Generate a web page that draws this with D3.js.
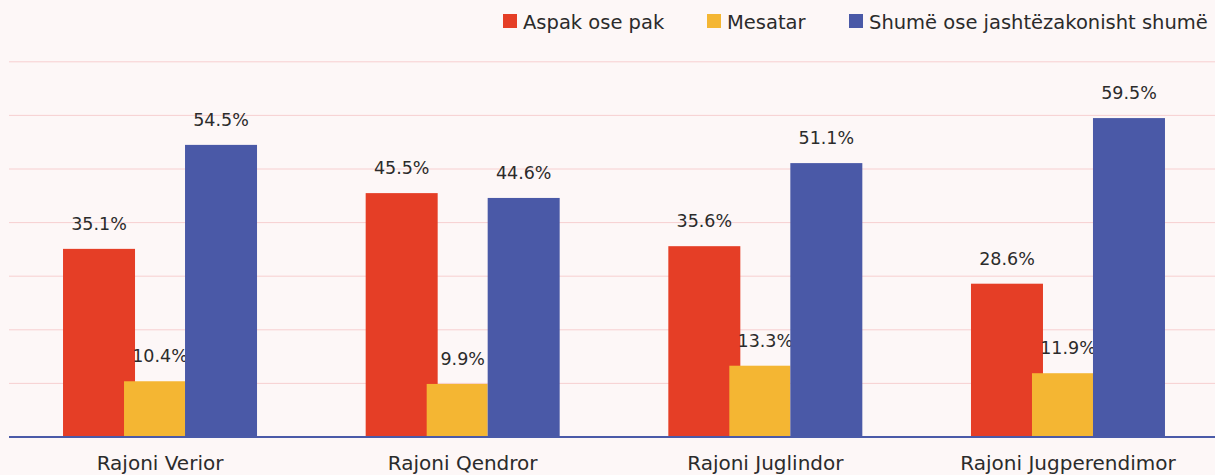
<!DOCTYPE html>
<html>
<head>
<meta charset="utf-8">
<script src="https://cdn.jsdelivr.net/npm/d3@7"></script>
<style>
  html, body { margin: 0; padding: 0; background: #fdf7f7; }
  svg { display: block; }
  text { font-family: "DejaVu Sans", sans-serif; fill: #2b2b2b; }
</style>
</head>
<body>
<svg id="chart" width="1215" height="475"></svg>
<script>
// ---- data ----
const categories = ["Rajoni Verior", "Rajoni Qendror", "Rajoni Juglindor", "Rajoni Jugperendimor"];
const seriesNames = ["Aspak ose pak", "Mesatar", "Shumë ose jashtëzakonisht shumë"];
const aspakOsePak = [35.1, 45.5, 35.6, 28.6];
const mesatar = [10.4, 9.9, 13.3, 11.9];
const shume = [54.5, 44.6, 51.1, 59.5];
const gridTicks = [10, 20, 30, 40, 50, 60, 70];
const colors = ["#e53e26", "#f4b633", "#4a59a7"];

// ---- layout ----
const W = 1215, H = 475;
const svg = d3.select("#chart");
svg.append("rect").attr("width", W).attr("height", H).attr("fill", "#fdf7f7");

const x = d3.scaleBand().domain(categories).range([8.7, 1219.3]).padding(0);
const y = d3.scaleLinear().domain([0, 70]).range([437, 61.8]);

// gridlines
svg.append("g").selectAll("line").data(gridTicks).join("line")
  .attr("x1", 9).attr("x2", W)
  .attr("y1", d => y(d)).attr("y2", d => y(d))
  .attr("stroke", "#f7cfd0").attr("stroke-width", 1);

const cx = c => x(c) + x.bandwidth() / 2;
const fmt = v => v.toFixed(1) + "%";

// bar geometry relative to group center
const barDefs = [
  { vals: aspakOsePak, off: -97, w: 72, labOff: -61 },
  { vals: mesatar,     off: -36, w: 61, labOff: 0 },
  { vals: shume,       off: 25,  w: 72, labOff: 61 }
];

function drawBars(i) {
  const def = barDefs[i];
  svg.append("g").selectAll("rect").data(categories).join("rect")
    .attr("x", c => cx(c) + def.off)
    .attr("width", def.w)
    .attr("y", (c, j) => y(def.vals[j]))
    .attr("height", (c, j) => y(0) - y(def.vals[j]))
    .attr("fill", colors[i]);
}
function drawLabels(i) {
  const def = barDefs[i];
  svg.append("g").selectAll("text").data(categories).join("text")
    .attr("x", c => cx(c) + def.labOff)
    .attr("y", (c, j) => y(def.vals[j]) - 19)
    .attr("text-anchor", "middle")
    .style("font-size", "17.5px")
    .text((c, j) => fmt(def.vals[j]));
}

drawBars(0);
drawBars(1);
drawLabels(1);
drawBars(2);
drawLabels(0);
drawLabels(2);

// baseline
svg.append("line").attr("x1", 9).attr("x2", W)
  .attr("y1", y(0)).attr("y2", y(0))
  .attr("stroke", "#4a5aa8").attr("stroke-width", 2);

// x axis labels
const xAxis = d3.axisBottom(x).tickSize(0).tickPadding(0);
const gx = svg.append("g").attr("transform", `translate(0,${y(0)})`).call(xAxis);
gx.select(".domain").remove();
gx.selectAll("text")
  .attr("y", 33).attr("dy", 0)
  .attr("dx", 0)
  .style("font-size", "20px")
  .style("font-family", "DejaVu Sans")
  .attr("fill", "#2b2b2b");

// legend
const legendX = [503, 707, 849];
const lg = svg.append("g");
seriesNames.forEach((name, i) => {
  lg.append("rect").attr("x", legendX[i]).attr("y", 14).attr("width", 14).attr("height", 14).attr("fill", colors[i]);
  lg.append("text").attr("x", legendX[i] + 20).attr("y", 29)
    .style("font-size", "19.5px").text(name);
});
</script>
</body>
</html>
